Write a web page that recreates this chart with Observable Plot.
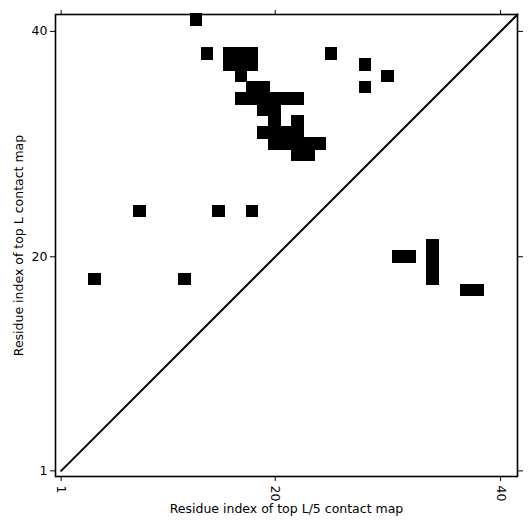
<!DOCTYPE html>
<html><head><meta charset="utf-8">
<script src="https://cdn.jsdelivr.net/npm/d3@7"></script>
<script src="https://cdn.jsdelivr.net/npm/@observablehq/plot@0.6"></script>
<style>body{margin:0;background:#fff}</style>
</head><body><div id="chart"></div>
<script>
// contact cells (column index, row index)
const cellX = [13, 14,16,17,18,25, 16,17,18,28, 17,30, 18,19,28, 17,18,19,20,21,22, 19,20, 20,22, 19,20,21,22, 20,21,22,23,24, 22,23, 8,15,18, 31,32, 34,34,34,34, 4,12, 37,38];
const cellY = [41, 38,38,38,38,38, 37,37,37,37, 36,36, 35,35,35, 34,34,34,34,34,34, 33,33, 32,32, 31,31,31,31, 30,30,30,30,30, 29,29, 24,24,24, 20,20, 21,20,19,18, 18,18, 17,17];
const xTicks = [1, 20, 40];
const yTicks = [1, 20, 40];
const domainLimits = [0.5, 41.5];
const diagonalEnds = [1, 41.5];

const cells = cellX.map((x, i) => ({x, y: cellY[i]}));
const diag = diagonalEnds.map(v => ({x: v, y: v}));

const chart = Plot.plot({
  width: 531,
  height: 531,
  marginLeft: 55,
  marginRight: 14,
  marginTop: 14,
  marginBottom: 55,
  style: {fontFamily: "DejaVu Sans", fontSize: "12.5px", color: "#000", background: "#fff"},
  x: {domain: domainLimits},
  y: {domain: domainLimits},
  marks: [
    Plot.rect(cells, {x1: d => d.x - 0.5, x2: d => d.x + 0.5, y1: d => d.y - 0.5, y2: d => d.y + 0.5, fill: "black", stroke: "black", strokeWidth: 1.2, inset: 0, shapeRendering: "crispEdges"}),
    Plot.line(diag, {x: "x", y: "y", stroke: "black", strokeWidth: 2}),
    Plot.frame({stroke: "black", strokeWidth: 1.6}),
    Plot.axisX(xTicks, {anchor: "bottom", tickSize: 5, label: null, text: null}),
    Plot.text(xTicks, {x: d => d, frameAnchor: "bottom", dy: 9, rotate: 90, textAnchor: "start", lineAnchor: "middle", text: d => String(d), fontSize: 12.5}),
    Plot.axisX({anchor: "bottom", ticks: [], label: "Residue index of top L/5 contact map", labelAnchor: "center", labelArrow: "none", labelOffset: 36, fontSize: 12.5, tickSize: 0}),
    Plot.axisX(xTicks, {anchor: "top", tickSize: 5, tickFormat: () => "", label: null}),
    Plot.axisY(yTicks, {anchor: "left", tickSize: 5, tickPadding: 3, label: "Residue index of top L contact map", labelAnchor: "center", labelArrow: "none", labelOffset: 41, fontSize: 12.5}),
    Plot.axisY(yTicks, {anchor: "right", tickSize: 5, tickFormat: () => "", label: null})
  ]
});
document.getElementById("chart").appendChild(chart);
</script>
</body></html>
